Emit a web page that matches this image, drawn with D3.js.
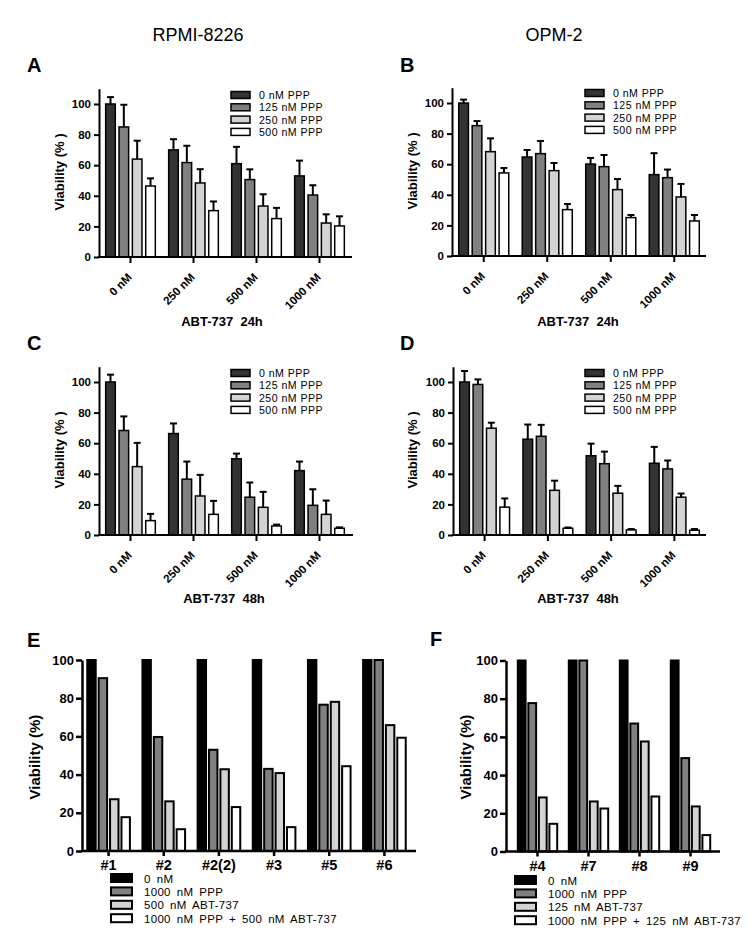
<!DOCTYPE html>
<html><head><meta charset="utf-8">
<script src="https://cdn.jsdelivr.net/npm/d3@7/dist/d3.min.js"></script>
<style>
body{margin:0;background:#fff}
text{font-family:Arial,"Liberation Sans",sans-serif}
</style>
</head><body>
<svg id="c" width="752" height="942"></svg>
<script>
// ---------- data ----------
const abtGroups = ["0 nM", "250 nM", "500 nM", "1000 nM"];
const pppSeries = ["0 nM PPP", "125 nM PPP", "250 nM PPP", "500 nM PPP"];
const yTicksAD = [0, 20, 40, 60, 80, 100];
const yTicksEF = [0, 20, 40, 60, 80, 100];

// values: one row per series (0,125,250,500 nM PPP), one column per ABT-737 group
const meanA = [[100, 70, 61, 53], [85, 61.7, 50.6, 40.5], [64, 48.4, 33.3, 22.2], [46.4, 30.3, 25.1, 20.3]];
const errA  = [[4.5, 7, 11, 10], [14.5, 11, 6.7, 6.4], [12, 9, 7.7, 5.7], [5, 6, 7, 6.3]];
const meanB = [[100, 64.7, 60.1, 53.2], [85.2, 66.9, 58.4, 51.2], [68.2, 55.8, 43.4, 38.6], [54.3, 30.3, 25.1, 22.9]];
const errB  = [[2.2, 4.6, 4, 14], [3, 8.3, 7.6, 5.3], [8.7, 5, 6.9, 8.5], [3.2, 3.7, 1.7, 3.9]];
const meanC = [[100, 66.3, 49.8, 42.1], [68.3, 36.5, 24.7, 19.4], [44.7, 25.5, 18.1, 13.5], [9.4, 13.5, 5.9, 4.4]];
const errC  = [[4.8, 6.6, 3.4, 5.9], [9.2, 11.5, 9.6, 10.5], [15.5, 13.8, 10.1, 9], [4.4, 8.8, 0.9, 0.6]];
const meanD = [[100, 62.6, 51.8, 46.9], [98.4, 64.5, 46.6, 43.2], [69.8, 29.2, 27.3, 24.7], [18.2, 4.4, 3.3, 3.1]];
const errD  = [[7.2, 9.6, 7.9, 10.7], [3.3, 7.5, 7.9, 5.5], [3.6, 6.3, 4.8, 2.4], [5.7, 0.5, 0.6, 0.8]];

const patientsE = ["#1", "#2", "#2(2)", "#3", "#5", "#6"];
const seriesE = ["0 nM", "1000 nM PPP", "500 nM ABT-737", "1000 nM PPP + 500 nM ABT-737"];
const valuesE = [[100, 100, 100, 100, 100, 100], [90.5, 59.7, 53, 43, 76.6, 100], [27.1, 26, 42.8, 40.8, 78.1, 65.9], [17.7, 11.4, 23, 12.5, 44.4, 59.3]];

const patientsF = ["#4", "#7", "#8", "#9"];
const seriesF = ["0 nM", "1000 nM PPP", "125 nM ABT-737", "1000 nM PPP + 125 nM ABT-737"];
const valuesF = [[100, 100, 100, 100], [77.7, 100, 67, 48.9], [28.3, 26.2, 57.6, 23.6], [14.5, 22.5, 28.8, 8.6]];

const colorsAD = ["#333333", "#808080", "#d3d3d3", "#ffffff"];
const colorsEF = ["#000000", "#808080", "#d3d3d3", "#ffffff"];

// ---------- drawing ----------
const svg = d3.select("#c");
const FONT = 'Arial,"Liberation Sans",sans-serif';

function txt(x, y, s, size, weight, anchor) {
  return svg.append("text").attr("x", x).attr("y", y).text(s)
    .attr("font-size", size).attr("font-weight", weight || "normal")
    .attr("text-anchor", anchor || "start").attr("fill", "#000")
    .style("white-space", "pre");
}

function groupedPanel(c) {
  const g = svg.append("g");
  const y = d3.scaleLinear().domain([0, c.ymax]).range([c.y0, c.y0 - c.ymax * (c.y0 - c.y100) / 100]);
  const x = d3.scaleBand().domain(c.groups).range([c.bx0, c.bx1]);
  const xi = d3.scaleBand().domain(d3.range(c.values.length)).range([0, x.bandwidth()])
    .paddingInner(c.pi).paddingOuter(c.po);

  c.values.forEach((row, s) => {
    row.forEach((v, j) => {
      const bx = x(c.groups[j]) + xi(s);
      const w = xi.bandwidth();
      if (c.errs) {
        const e = c.errs[s][j];
        const cx = bx + w / 2;
        g.append("line").attr("x1", cx).attr("x2", cx).attr("y1", y(v)).attr("y2", y(v + e))
          .attr("stroke", "#000").attr("stroke-width", 2);
        g.append("line").attr("x1", cx - 3.5).attr("x2", cx + 3.5).attr("y1", y(v + e)).attr("y2", y(v + e))
          .attr("stroke", "#000").attr("stroke-width", 2);
      }
      g.append("rect").attr("x", bx).attr("y", y(v)).attr("width", w).attr("height", c.y0 - y(v))
        .attr("fill", c.colors[s]).attr("stroke", "#000").attr("stroke-width", c.barStroke);
    });
  });

  // y axis
  const ya = g.append("g").attr("transform", `translate(${c.ax0},0)`)
    .call(d3.axisLeft(y).tickValues(c.yticks).tickSize(c.ytick).tickSizeOuter(0).tickPadding(c.ypad));
  ya.select(".domain").attr("stroke-width", c.axisW);
  ya.selectAll(".tick line").attr("stroke-width", c.axisW);
  ya.selectAll(".tick text").attr("font-size", c.yfs).attr("font-weight", "bold")
    .attr("font-family", FONT).attr("fill", "#000");

  // x axis
  const xa = g.append("g").attr("transform", `translate(0,${c.y0})`)
    .call(d3.axisBottom(x).tickSize(c.xtick).tickSizeOuter(0).tickFormat(""));
  xa.select(".domain").remove();
  xa.selectAll(".tick line").attr("stroke-width", c.axisW);
  g.append("line").attr("x1", c.ax0 - c.axisW / 2).attr("x2", c.ax1).attr("y1", c.y0).attr("y2", c.y0)
    .attr("stroke", "#000").attr("stroke-width", c.axisW);

  // x labels
  c.groups.forEach(gr => {
    const cx = x(gr) + x.bandwidth() / 2;
    if (c.rotate) {
      g.append("text").text(gr)
        .attr("transform", `translate(${cx + 2},${c.y0 + 21}) rotate(-45)`)
        .attr("text-anchor", "end").attr("font-size", 11.5).attr("font-weight", "bold")
        .attr("font-family", FONT);
    } else {
      g.append("text").text(gr).attr("x", cx).attr("y", c.y0 + 19)
        .attr("text-anchor", "middle").attr("font-size", 14.5).attr("font-weight", "bold")
        .attr("font-family", FONT);
    }
  });

  // y label
  g.append("text").text(c.ylabel)
    .attr("transform", `translate(${c.ylx},${c.yly}) rotate(-90)`)
    .attr("text-anchor", "middle").attr("font-size", c.ylfs).attr("font-weight", "bold")
    .attr("font-family", FONT).style("white-space", "pre");
}

function legendAD(x, yTop) {
  pppSeries.forEach((s, i) => {
    const cy = yTop + i * 12.3;
    svg.append("rect").attr("x", x).attr("y", cy - 3.5).attr("width", 19).attr("height", 7)
      .attr("fill", colorsAD[i]).attr("stroke", "#000").attr("stroke-width", 1.5);
    txt(x + 28, cy + 4, s, 10.6).attr("letter-spacing", 0.45);
  });
}

function legendEF(x, yTop, labels) {
  labels.forEach((s, i) => {
    const cy = yTop + i * 13.4;
    svg.append("rect").attr("x", x).attr("y", cy - 4).attr("width", 21).attr("height", 8)
      .attr("fill", colorsEF[i]).attr("stroke", "#000").attr("stroke-width", 2);
    txt(x + 33, cy + 4.5, s, 11.5).attr("word-spacing", 2.5).attr("letter-spacing", 0.3);
  });
}

// titles
txt(198, 41, "RPMI-8226", 18, "normal", "middle");
txt(554, 41, "OPM-2", 18, "normal", "middle");
// panel letters
txt(27, 72, "A", 20, "bold");
txt(400, 72, "B", 20, "bold");
txt(27, 350, "C", 20, "bold");
txt(400, 350, "D", 20, "bold");
txt(27, 647, "E", 20, "bold");
txt(430, 646, "F", 20, "bold");

const adCommon = {groups: abtGroups, colors: colorsAD, ymax: 110, yticks: yTicksAD, pi: 0.28, po: 0.5,
  barStroke: 1.5, axisW: 2, ytick: 5, ypad: 3, yfs: 11.5, xtick: 6, rotate: true,
  ylabel: "Viability (% )", ylfs: 13};

groupedPanel(Object.assign({}, adCommon, {values: meanA, errs: errA, ax0: 99, ax1: 352, bx0: 99, bx1: 351, y0: 257, y100: 104, ylx: 64, yly: 172}));
groupedPanel(Object.assign({}, adCommon, {values: meanB, errs: errB, ax0: 452, ax1: 706, bx0: 452, bx1: 706, y0: 256, y100: 103, ylx: 417, yly: 171}));
groupedPanel(Object.assign({}, adCommon, {values: meanC, errs: errC, ax0: 99, ax1: 353, bx0: 99, bx1: 351, y0: 535, y100: 382, ylx: 64, yly: 450}));
groupedPanel(Object.assign({}, adCommon, {values: meanD, errs: errD, ax0: 453, ax1: 706, bx0: 453, bx1: 706, y0: 535, y100: 382, ylx: 417, yly: 450}));

legendAD(231, 95);
legendAD(585, 93);
legendAD(231, 373);
legendAD(585, 373);

txt(222, 326, "ABT-737  24h", 13, "bold", "middle");
txt(578, 326, "ABT-737  24h", 13, "bold", "middle");
txt(224, 603, "ABT-737  48h", 13, "bold", "middle");
txt(578, 603, "ABT-737  48h", 13, "bold", "middle");

const efCommon = {colors: colorsEF, ymax: 100, yticks: yTicksEF, pi: 0.26, po: 0.55,
  barStroke: 2, axisW: 2.5, ytick: 6, ypad: 2, yfs: 13, xtick: 5, rotate: false,
  ylabel: "Viability (%)", ylfs: 15};

groupedPanel(Object.assign({}, efCommon, {groups: patientsE, values: valuesE, ax0: 82, ax1: 416, bx0: 81, bx1: 412, y0: 851, y100: 660, ylx: 40, yly: 757}));
groupedPanel(Object.assign({}, efCommon, {groups: patientsF, values: valuesF, ax0: 506, ax1: 720, bx0: 512, bx1: 716, y0: 851.5, y100: 660.5, ylx: 471, yly: 757}));

legendEF(111, 878, seriesE);
legendEF(515, 880, seriesF);
</script>
</body></html>
